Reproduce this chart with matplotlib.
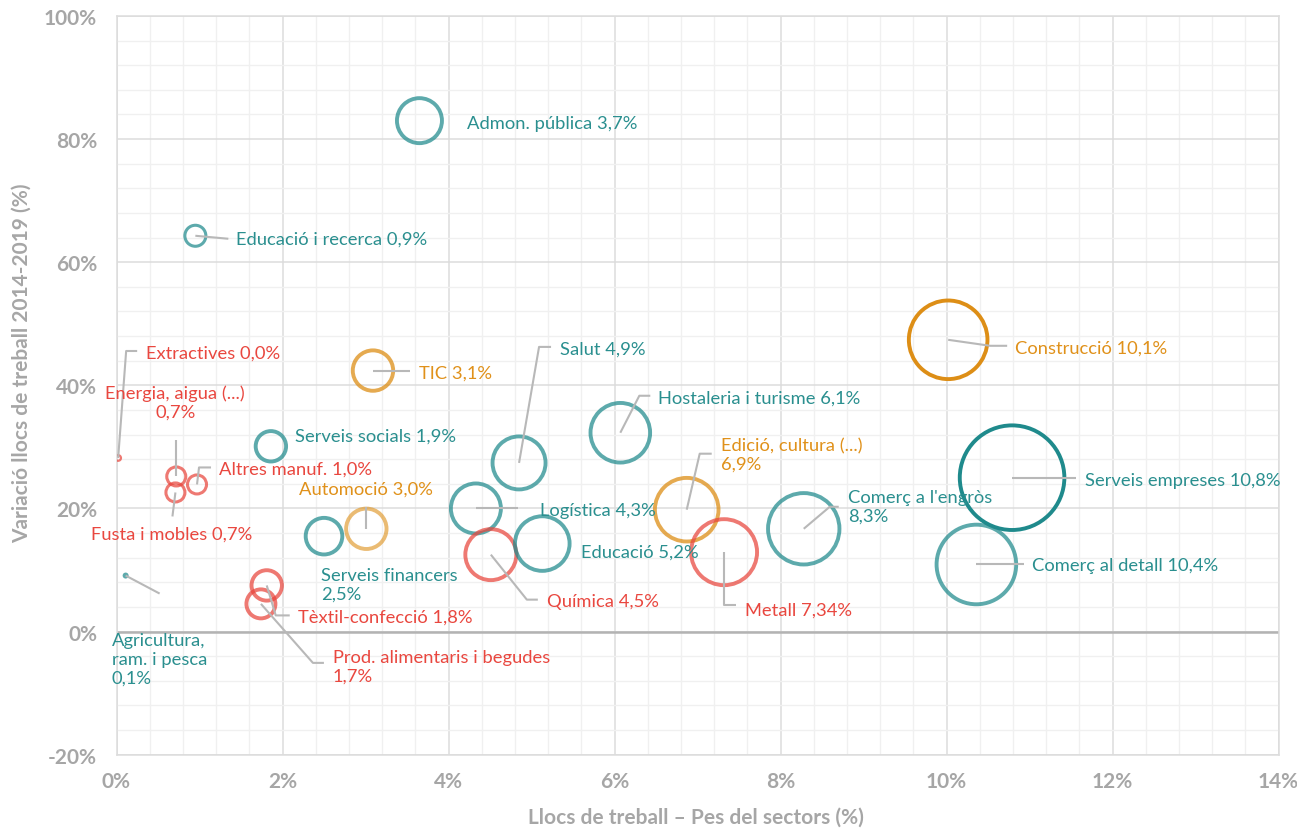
import matplotlib
matplotlib.use("Agg")
import matplotlib.pyplot as plt
from matplotlib.ticker import MultipleLocator, FuncFormatter
import numpy as np

plt.rcParams['font.family'] = ['Lato', 'DejaVu Sans']

# ---------------- data ----------------
sectors = ["Admon. pública 3,7%", "Educació i recerca 0,9%", "Extractives 0,0%",
           "Energia, aigua (...)\n0,7%", "Fusta i mobles 0,7%", "Altres manuf. 1,0%",
           "Serveis socials 1,9%", "TIC 3,1%", "Automoció 3,0%",
           "Serveis financers\n2,5%", "Agricultura,\nram. i pesca\n0,1%",
           "Tèxtil-confecció 1,8%", "Prod. alimentaris i begudes\n1,7%",
           "Salut 4,9%", "Hostaleria i turisme 6,1%", "Logística 4,3%",
           "Química 4,5%", "Educació 5,2%", "Edició, cultura (...)\n6,9%",
           "Metall 7,34%", "Comerç a l'engròs\n8,3%", "Construcció 10,1%",
           "Serveis empreses 10,8%", "Comerç al detall 10,4%"]
pes_sector = [3.65, 0.95, 0.02, 0.72, 0.71, 0.97, 1.86, 3.09, 3.01, 2.50, 0.11,
              1.81, 1.74, 4.85, 6.07, 4.33, 4.51, 5.13, 6.87, 7.32, 8.28, 10.02,
              10.79, 10.36]
variacio = [83.0, 64.3, 28.2, 25.2, 22.6, 23.9, 30.1, 42.4, 16.7, 15.5, 9.1,
            7.5, 4.5, 27.4, 32.3, 20.0, 12.5, 14.3, 19.8, 12.9, 16.7, 47.4,
            25.0, 10.9]
mida_bombolla = [22.5, 10.5, 2.8, 9.5, 9.5, 9.5, 15.2, 20.2, 20.2, 18.3, 3.0,
                 15.2, 14.5, 26.5, 29.8, 25.0, 25.5, 27.3, 31.8, 33.0, 35.7,
                 39.3, 52.3, 39.8]
grup = ["serv", "serv", "ind", "ind", "ind", "ind", "serv", "cons", "cons",
        "serv", "serv", "ind", "ind", "serv", "serv", "serv", "ind", "serv",
        "cons", "ind", "serv", "cons", "serv", "serv"]

x_ticks = [0, 2, 4, 6, 8, 10, 12, 14]
y_ticks = [-20, 0, 20, 40, 60, 80, 100]

# ---------------- styles ----------------
base_col = {"serv": "#1f8a8c", "ind": "#e8453c", "cons": "#dd8e16"}
text_col = {"serv": "#2a8f8f", "ind": "#e9473f", "cons": "#e0911a"}
alphas = [0.72, 0.72, 0.72, 0.72, 0.72, 0.72, 0.72, 0.75, 0.6, 0.72, 0.72,
          0.72, 0.72, 0.72, 0.72, 0.72, 0.72, 0.72, 0.75, 0.72, 0.72, 1.0,
          1.0, 0.72]

# label offsets (pixels, image-down y), alignment
lab_off = [(48, 2, 'left'), (41, 3, 'left'), (28, -105, 'left'), (-1, -74, 'center'),
           (-4, 41, 'center'), (22, -16, 'left'), (24, -11, 'left'), (46, 2, 'left'),
           (0, -40, 'center'), (-3, 48, 'left'), (-14, 83, 'left'), (31, 31, 'left'),
           (72, 62, 'left'), (41, -114, 'left'), (38, -35, 'left'), (64, 2, 'left'),
           (56, 46, 'left'), (39, 8, 'left'), (34, -55, 'left'), (21, 57, 'left'),
           (44, -22, 'left'), (67, 8, 'left'), (73, 2, 'left'), (56, 1, 'left')]
leaders = [None, [(0, 0), (33, 3)], [(0, 0), (8, -107), (19, -107)],
           [(0, 0), (0, -36)], [(0, 0), (-3, 24)], [(0, 0), (2, -17), (14, -17)],
           None, [(0, 0), (37, 0)], [(0, 0), (0, -22)], None, [(0, 0), (34, 18)],
           [(0, 0), (9, 30), (23, 30)], [(0, 0), (52, 59), (63, 59)],
           [(0, 0), (20, -116), (32, -116)], [(0, 0), (19, -37), (30, -37)],
           [(0, 0), (42, 0)], [(0, 0), (36, 45), (47, 45)], None,
           [(0, 0), (13, -56), (25, -56)], [(0, 0), (0, 53), (12, 53)],
           [(0, 0), (26, -22), (35, -22)], [(0, 0), (42, 6), (59, 6)],
           [(0, 0), (64, 0)], [(0, 0), (48, 0)]]

W, H, DPI = 1297, 829, 100
fig = plt.figure(figsize=(W / DPI, H / DPI), dpi=DPI)
fig.patch.set_facecolor("white")
ax = fig.add_axes([116.5 / W, 73.3 / H, (1278.5 - 116.5) / W, (755.7 - 17) / H])
ax.set_xlim(0, 14)
ax.set_ylim(-20, 100)

ax.xaxis.set_major_locator(MultipleLocator(2))
ax.xaxis.set_minor_locator(MultipleLocator(0.4))
ax.yaxis.set_major_locator(MultipleLocator(20))
ax.yaxis.set_minor_locator(MultipleLocator(4))
ax.grid(which='major', color='#dcdcdc', linewidth=1.1, zorder=0)
ax.grid(which='minor', color='#f0f0f0', linewidth=1.0, zorder=0)
ax.set_axisbelow(True)
for s in ax.spines.values():
    s.set_color('#dcdcdc')
    s.set_linewidth(1.1)
ax.axhline(0, color='#b3b3b3', linewidth=1.8, zorder=1)

ax.set_xticks(x_ticks)
ax.set_yticks(y_ticks)
fmt = FuncFormatter(lambda v, p: f"{v:.0f}%")
ax.xaxis.set_major_formatter(fmt)
ax.yaxis.set_major_formatter(fmt)
ax.tick_params(which='both', length=0)
ax.tick_params(axis='x', pad=12)
ax.tick_params(axis='y', pad=14)
for lab in ax.get_xticklabels() + ax.get_yticklabels():
    lab.set_fontsize(15)
    lab.set_fontweight('bold')
    lab.set_color('#a6a6a6')

fig.text(696 / W, 1 - 818 / H, "Llocs de treball – Pes del sectors (%)",
         ha='center', va='center', fontsize=15, fontweight='bold', color='#a6a6a6')
fig.text(22 / W, 1 - 363 / H, "Variació llocs de treball 2014-2019 (%)",
         ha='center', va='center', rotation=90, fontsize=15, fontweight='bold',
         color='#a6a6a6')

# bubbles
for i in range(len(sectors)):
    col = base_col[grup[i]]
    r_pt = mida_bombolla[i] * 0.72
    s = (2 * r_pt) ** 2
    if i == 10:
        ax.scatter([pes_sector[i]], [variacio[i]], s=s, color=col, alpha=alphas[i],
                   edgecolors='none', zorder=3)
    else:
        lw = 2.8 if mida_bombolla[i] > 12 else 2.2
        if mida_bombolla[i] < 5:
            lw = 1.6
        ax.scatter([pes_sector[i]], [variacio[i]], s=s, facecolors='none',
                   edgecolors=col, alpha=alphas[i], linewidths=lw, zorder=3)

fig.canvas.draw()
inv = ax.transData.inverted()
for i in range(len(sectors)):
    cx, cy = ax.transData.transform((pes_sector[i], variacio[i]))
    if leaders[i] is not None:
        pts = np.array([(cx + dx, cy - dy) for dx, dy in leaders[i]])
        d = inv.transform(pts)
        ax.plot(d[:, 0], d[:, 1], color='#b8b8b8', linewidth=1.5, zorder=4,
                clip_on=False, solid_capstyle='butt')
    dx, dy, ha = lab_off[i]
    ax.annotate(sectors[i], xy=(pes_sector[i], variacio[i]), xytext=(dx, -dy),
                textcoords='offset pixels', ha=ha, va='center', multialignment=ha,
                fontsize=13.2, color=text_col[grup[i]], zorder=5,
                linespacing=1.2)

fig.savefig("out.png", dpi=DPI, facecolor='white')
